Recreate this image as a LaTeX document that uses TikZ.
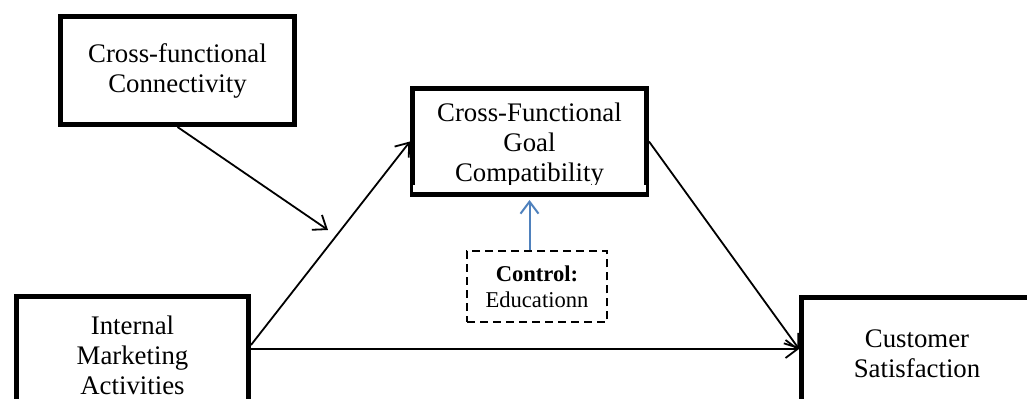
\documentclass[tikz,border=0pt]{standalone}
\usepackage{fontspec}
\setmainfont{Liberation Serif}
\usetikzlibrary{arrows.meta}
\definecolor{ctrlblue}{RGB}{79,129,189}

\begin{document}
\begin{tikzpicture}[x=0.5pt,y=-0.5pt,
  box/.style={draw,line width=2.5pt,align=center,inner sep=0pt,font=\fontsize{13.4}{15}\selectfont},
  arr/.style={-{Straight Barb[length=6pt,width=9pt]},line width=0.9pt}]
\useasboundingbox (0,0) rectangle (1027,399);
% boxes
\node[box,minimum width=117pt,minimum height=54pt] (conn) at (177.5,70.5) {Cross-functional\\Connectivity};
\node[box,minimum width=117pt,minimum height=53pt] (goal) at (529.5,141.5) {\rule{0pt}{13pt}Cross-Functional\\Goal\\Compatibility};
\fill[white] (413,185) rectangle (646,192);
\node[box,minimum width=116pt,minimum height=61.5pt] (ima) at (132.5,358) {Internal\\Marketing\\Activities\rule[-3pt]{0pt}{3pt}};
\node[box,minimum width=115.5pt,minimum height=62.5pt] (cs) at (917,360) {Customer\\Satisfaction\rule[-6pt]{0pt}{6pt}};
\node[draw,line width=1pt,dash pattern=on 4pt off 2.5pt,minimum width=70pt,minimum height=35.5pt,inner sep=0pt,align=center,font=\fontsize{11.3}{13}\selectfont] (ctrl) at (537,287) {\textbf{Control:}\\Educationn};
\coordinate (mod) at (328,230);
% paths
\draw[arr] (conn.south) -- (mod);
\draw[arr] ([yshift=6.5pt]ima.east) -- (goal.west);
\draw[arr] ([yshift=4.5pt]ima.east) -- ([yshift=5.5pt]cs.west);
\draw[arr] (goal.east) -- ([yshift=5.5pt]cs.west);
\draw[arr,ctrlblue,line width=1pt] (ctrl.north -| goal.south) -- ([yshift=-1.5pt]goal.south);
\end{tikzpicture}
\end{document}
